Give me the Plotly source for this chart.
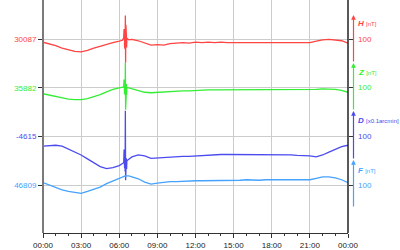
import plotly.graph_objects as go
import pandas as pd

# time of day in hours
hours = [0, 0.5, 1, 1.5, 2, 2.5, 3, 3.5, 4, 4.5, 5, 5.5, 6, 6.25,
         6.35, 6.38, 6.40, 6.42, 6.44, 6.46, 6.48, 6.50, 6.52, 6.54, 6.56, 6.58, 6.60,
         6.75, 7, 7.5, 8, 8.5, 9, 9.5, 10, 10.5, 11, 11.5, 12, 12.5, 13, 13.5,
         14, 14.5, 15, 15.5, 16, 16.5, 17, 17.5, 18, 18.5, 19, 19.5, 20, 20.5,
         21, 21.5, 22, 22.5, 23, 23.5, 24]

H = [30081, 30078, 30074, 30069, 30065, 30062, 30061, 30064, 30069, 30073, 30077, 30080, 30083, 30085,
     30090, 30108, 30099, 30072, 30102, 30067, 30136, 30039, 30117, 30065, 30097, 30070, 30089,
     30086,
     30087, 30084, 30079, 30075, 30076, 30075, 30078, 30079, 30080, 30079, 30081, 30080, 30081, 30080,
     30081, 30080, 30080, 30081, 30080, 30081, 30080, 30080, 30080, 30081, 30080, 30080, 30080, 30080,
     30080, 30083, 30086, 30087, 30086, 30084, 30079]

Z = [35870, 35867, 35864, 35861, 35859, 35858, 35858, 35860, 35864, 35868, 35874, 35879, 35882, 35883,
     35884, 35899, 35892, 35870, 35896, 35867, 35933, 35837, 35907, 35864, 35890, 35868, 35883,
     35882,
     35880, 35877, 35873, 35872, 35873, 35874, 35875, 35875, 35876, 35876, 35877, 35877, 35878, 35878,
     35878, 35878, 35878, 35878, 35878, 35879, 35878, 35878, 35878, 35878, 35878, 35878, 35878, 35878,
     35878, 35879, 35880, 35880, 35879, 35877, 35873]

D = [-4635, -4634, -4633, -4635, -4641, -4647, -4653, -4661, -4669, -4677, -4681, -4679, -4675, -4671,
     -4669, -4642, -4655, -4680, -4650, -4687, -4562, -4705, -4645, -4675, -4660, -4682, -4665,
     -4662,
     -4657, -4653, -4655, -4660, -4659, -4659, -4658, -4657, -4656, -4656, -4655, -4654, -4653, -4652,
     -4652, -4652, -4652, -4652, -4652, -4653, -4652, -4652, -4652, -4652, -4653, -4653, -4654, -4654,
     -4655, -4657, -4653, -4647, -4641, -4636, -4633]

F = [46814, 46809, 46804, 46799, 46796, 46794, 46792, 46796, 46800, 46805, 46812, 46818, 46824, 46826,
     46827, 46827, 46827, 46828, 46827, 46828, 46827, 46828, 46828, 46828, 46828, 46828, 46828,
     46828,
     46826, 46822, 46815, 46811, 46813, 46815, 46816, 46816, 46817, 46817, 46818, 46818, 46818, 46818,
     46819, 46819, 46819, 46819, 46820, 46819, 46819, 46820, 46820, 46820, 46820, 46820, 46820, 46820,
     46820, 46823, 46826, 46826, 46824, 46820, 46814]

names = ["H", "Z", "D", "F"]
units = ["[nT]", "[nT]", "[x0.1arcmin]", "[nT]"]
bases = [30087, 35882, -4615, 46809]
scale_labels = ["100", "100", "100", "100"]
scale = 100
colors = ["#ff4444", "#33ee33", "#4b4bf0", "#45a2ff"]
series = [H, Z, D, F]

t0 = pd.Timestamp("2024-01-01")
times = [t0 + pd.Timedelta(hours=h) for h in hours]

W, HT = 400, 250
ml, mr, mt, mb = 43, 52, 0, 17
pw = W - ml - mr
ph = HT - mt - mb
base_px = [39.3, 87.9, 136.5, 185.1]   # pixel rows of the baselines from top
div_px = 48.6

fig = go.Figure()
order = [3, 0, 1, 2]
for i in order:
    ax = "y" if i == 0 else f"y{i+1}"
    fig.add_trace(go.Scatter(x=times, y=series[i], mode="lines",
                             line=dict(color=colors[i], width=1.3),
                             yaxis=ax, showlegend=False, hoverinfo="skip"))

font = "Liberation Sans, Arial, sans-serif"
layout = dict(
    width=W, height=HT, margin=dict(l=ml, r=mr, t=mt, b=mb),
    paper_bgcolor="white", plot_bgcolor="white", showlegend=False,
    xaxis=dict(range=[t0, t0 + pd.Timedelta(hours=24)], type="date",
               tickformat="%H:%M", dtick=3 * 3600000, tick0=t0,
               showgrid=True, gridcolor="#cccccc", gridwidth=1,
               ticks="outside", ticklen=4, tickcolor="#333",
               tickfont=dict(size=8, color="#222", family=font),
               showline=True, linecolor="#333", linewidth=1,
               minor=dict(dtick=3600000, ticks="outside", ticklen=2,
                          tickcolor="#333", showgrid=False),
               zeroline=False),
)
for i in range(4):
    key = "yaxis" if i == 0 else f"yaxis{i+1}"
    lo = bases[i] - (ph - base_px[i]) / div_px * scale
    hi = bases[i] + base_px[i] / div_px * scale
    d = dict(range=[lo, hi], tickvals=[bases[i]], ticktext=[str(bases[i])],
             tickfont=dict(size=8, color=colors[i], family=font),
             showgrid=True, gridcolor="#cccccc", gridwidth=1,
             ticks="outside", ticklen=4, tickcolor="#333",
             mirror="ticks", showline=False, zeroline=False, side="left")
    if i > 0:
        d["overlaying"] = "y"
        d["anchor"] = "x"
    layout[key] = d
fig.update_layout(**layout)

# axis lines
fig.add_shape(type="line", xref="paper", yref="paper", x0=0, x1=0, y0=0, y1=1,
              line=dict(color="#7a7a7a", width=2))
fig.add_shape(type="line", xref="paper", yref="paper", x0=1, x1=1, y0=0, y1=1,
              line=dict(color="#222", width=1.5))

# right-hand scale arrows and labels
arrow_top = [15, 63, 111, 160]
arrow_bot = [63, 111, 160, 208]
label_px = [24, 72, 121, 170]
xa = 1 + 5.5 / pw
xl = 1 + 8 / pw
for i in range(4):
    fig.add_annotation(xref="paper", yref="paper", x=xa, y=1 - arrow_top[i] / ph,
                       ax=0, ay=arrow_bot[i] - arrow_top[i], axref="pixel", ayref="pixel",
                       text="", showarrow=True, arrowhead=2, arrowsize=0.8,
                       arrowwidth=1.2, arrowcolor=colors[i])
    fig.add_annotation(xref="paper", yref="paper", x=xl, y=1 - label_px[i] / ph,
                       xanchor="left", yanchor="middle", showarrow=False,
                       text=f"<b><i>{names[i]}</i></b> <span style='font-size:6px'>{units[i]}</span>",
                       font=dict(size=8, color=colors[i], family=font))
    fig.add_annotation(xref="paper", yref="paper", x=xl, y=1 - base_px[i] / ph,
                       xanchor="left", yanchor="middle", showarrow=False,
                       text=scale_labels[i],
                       font=dict(size=8, color=colors[i], family=font))

fig.write_html("out.html", config={"displayModeBar": False})
